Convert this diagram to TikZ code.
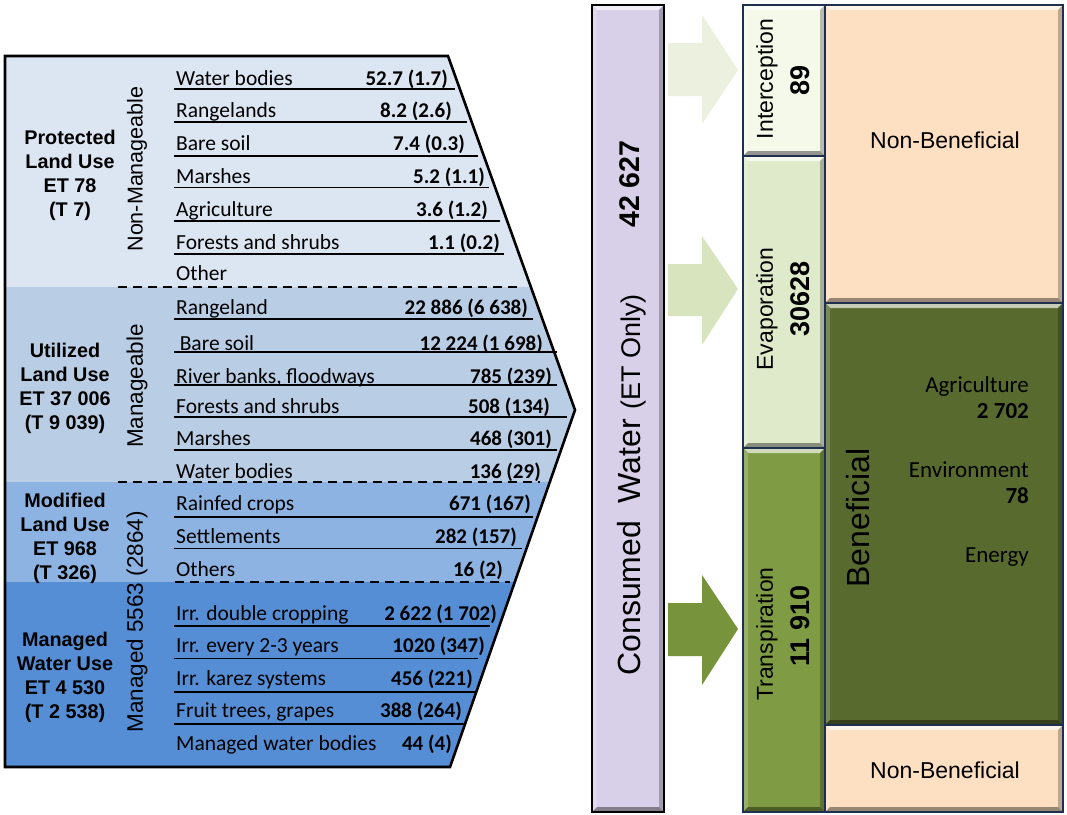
\documentclass[tikz,border=0pt]{standalone}
\usepackage{fontspec}
\setmainfont{Liberation Sans}
\newfontfamily\calib{Carlito}
\definecolor{bandA}{HTML}{DCE6F2}
\definecolor{bandB}{HTML}{B9CDE5}
\definecolor{bandC}{HTML}{8DB3E2}
\definecolor{bandD}{HTML}{558ED5}
\definecolor{lilac}{HTML}{D8CFE8}
\definecolor{interc}{HTML}{F5F9EA}
\definecolor{evapo}{HTML}{DFEACB}
\definecolor{transp}{HTML}{7F9B43}
\definecolor{peach}{HTML}{FDDFC1}
\definecolor{benef}{HTML}{586A2E}
\definecolor{arrA}{HTML}{EBF1DE}
\definecolor{arrB}{HTML}{D7E4BD}
\definecolor{arrC}{HTML}{77933C}
\definecolor{navy}{HTML}{1F2F50}
\newcommand\bevelbox[5]{%
  \fill[#5] (#1,#2) rectangle (#3,#4);
  \fill[#5!35!white] (#1,#2) -- (#3,#2) -- (#3-5,#2+5) -- (#1+5,#2+5) -- cycle;
  \fill[#5!80!white] (#1,#2) -- (#1+5,#2+5) -- (#1+5,#4-5) -- (#1,#4) -- cycle;
  \fill[#5!75!black] (#3,#2) -- (#3,#4) -- (#3-5,#4-5) -- (#3-5,#2+5) -- cycle;
  \fill[#5!60!black] (#1,#4) -- (#3,#4) -- (#3-5,#4-5) -- (#1+5,#4-5) -- cycle;
}
\newcommand\rowitem[5]{%
  \node[rowtxt] (#1l) at (176,#2) {#3};
  \node[rowval] (#1v) at (#4,#2) {#5};
}
\begin{document}
\begin{tikzpicture}[x=1pt,y=-1pt,
  rowtxt/.style={anchor=base west,inner sep=0pt,font=\calib\fontsize{21.5}{24}\selectfont},
  rowval/.style={anchor=base east,inner sep=0pt,font=\calib\bfseries\fontsize{21}{24}\selectfont},
  uline/.style={line width=1.6pt},
  dline/.style={line width=2.4pt,dash pattern=on 9pt off 6pt},
  grplabel/.style={align=center,inner sep=0pt,font=\bfseries\fontsize{19.8}{24}\selectfont},
  sidelabel/.style={rotate=90,inner sep=0pt,font=\fontsize{22.5}{26}\selectfont},
  vlabel/.style={rotate=90,inner sep=0pt,font=\fontsize{23}{26}\selectfont},
  vnum/.style={rotate=90,inner sep=0pt,font=\bfseries\fontsize{27}{30}\selectfont},
  rlabel/.style={anchor=base east,inner sep=0pt,font=\calib\fontsize{23}{26}\selectfont},
  rnum/.style={anchor=base east,inner sep=0pt,font=\calib\bfseries\fontsize{23}{26}\selectfont}]
\useasboundingbox (0,0) rectangle (1067,814);

% ---------- left pentagon ----------
\begin{scope}
  \clip (5,56) -- (448,56) -- (575,410) -- (450,767) -- (5,767) -- cycle;
  \fill[bandA] (0,50) rectangle (600,287);
  \fill[bandB] (0,287) rectangle (600,482);
  \fill[bandC] (0,482) rectangle (600,582);
  \fill[bandD] (0,582) rectangle (600,770);
\end{scope}
\draw[line width=2.6pt,line join=miter] (5,56) -- (448,56) -- (575,410) -- (450,767) -- (5,767) -- cycle;

% dashed separators
\draw[dline] (118,287) -- (522,287);
\draw[dline] (118,482) -- (540,482);
\draw[dline] (175,582) -- (510,582);

% underlines
\foreach \y/\xe in {89/455,121.7/467,156/478,187.3/489,221/500,254/504,
                    319/533,351.7/557,385/557,416.7/567,450/557,
                    516.7/533,548.3/522,
                    625.7/490,658.3/478,691.7/475,724/465}
  \draw[uline] (174,\y) -- (\xe,\y);

% rows: protected
\rowitem{pa}{85}{Water bodies}{448}{52.7 (1.7)}
\rowitem{pb}{117}{Rangelands}{452}{8.2 (2.6)}
\rowitem{pc}{150}{Bare soil}{465}{7.4 (0.3)}
\rowitem{pd}{183}{Marshes}{485}{5.2 (1.1)}
\rowitem{pe}{216}{Agriculture}{488}{3.6 (1.2)}
\rowitem{pf}{249}{Forests and shrubs}{500}{1.1 (0.2)}
\node[rowtxt] (pg) at (176,280) {Other};
% utilized
\rowitem{ua}{314}{Rangeland}{528}{22 886 (6 638)}
\rowitem{ub}{350}{\,Bare soil}{543}{12 224 (1 698)}
\rowitem{uc}{383}{River banks, floodways}{552}{785 (239)}
\rowitem{ud}{413}{Forests and shrubs}{550}{508 (134)}
\rowitem{ue}{445}{Marshes}{552}{468 (301)}
\rowitem{uf}{478}{Water bodies}{541}{136 (29)}
% modified
\rowitem{ma}{510}{Rainfed crops}{531}{671 (167)}
\rowitem{mb}{543}{Settlements}{517}{282 (157)}
\rowitem{mc}{576}{Others}{503}{16 (2)}
% managed
\rowitem{wa}{620}{Irr. double cropping}{497}{2 622 (1 702)}
\rowitem{wb}{652}{Irr. every 2-3 years}{485}{1020 (347)}
\rowitem{wc}{685}{Irr. karez systems}{473}{456 (221)}
\rowitem{wd}{717}{Fruit trees, grapes}{462}{388 (264)}
\rowitem{we}{750}{Managed water bodies}{452}{44 (4)}

% group labels
\node[grplabel] (gprot) at (70,175) {Protected\\Land Use\\ET 78\\(T 7)};
\node[grplabel] (gutil) at (65,388) {Utilized\\Land Use\\ET 37 006\\(T 9 039)};
\node[grplabel] (gmod) at (65,538) {Modified\\Land Use\\ET 968\\(T 326)};
\node[grplabel] (gman) at (65,677) {Managed\\Water Use\\ET 4 530\\(T 2 538)};

\node[sidelabel,font=\fontsize{21.5}{26}\selectfont] (snm) at (137,169) {Non-Manageable};
\node[sidelabel] (sm) at (137,386) {Manageable};
\node[sidelabel] (smd) at (137,622) {Managed 5563 (2864)};

% ---------- consumed water column ----------
\bevelbox{592}{5}{664}{812}{lilac}
\draw[line width=1.5pt] (592,5) rectangle (664,812);
\node[rotate=90,inner sep=0pt,anchor=base] (cw) at (640,485)
  {\fontsize{32}{36}\selectfont Consumed\ \ Water {\fontsize{27}{30}\selectfont(ET Only)}};
\node[vnum,font=\bfseries\fontsize{28.5}{32}\selectfont] (cwn) at (630,184) {42 627};

% ---------- block arrows ----------
\fill[arrA] (668,43) -- (702,43) -- (702,15) -- (738,70) -- (702,124) -- (702,96) -- (668,96) -- cycle;
\fill[arrB] (668,264) -- (702,264) -- (702,236) -- (738,289) -- (702,345) -- (702,316) -- (668,316) -- cycle;
\fill[arrC] (668,603) -- (702,603) -- (702,575) -- (738,629) -- (702,685) -- (702,656) -- (668,656) -- cycle;

% ---------- middle column ----------
\bevelbox{743}{5}{825}{156}{interc}
\bevelbox{743}{156}{825}{448}{evapo}
\bevelbox{743}{448}{825}{812}{transp}
\draw[navy,line width=1.2pt] (743,5) rectangle (825,156);
\draw[navy,line width=1.2pt] (743,156) rectangle (825,448);
\draw[navy,line width=1.2pt] (743,448) rectangle (825,812);
\node[vlabel] (ti) at (767,79) {Interception};
\node[vnum] (ni) at (800,80) {89};
\node[vlabel] (te) at (767,309) {Evaporation};
\node[vnum] (ne) at (800,299) {30628};
\node[vlabel] (tt) at (767,634) {Transpiration};
\node[vnum] (nt) at (800,626) {11 910};

% ---------- right column ----------
\bevelbox{825}{5}{1063}{303}{peach}
\bevelbox{825}{303}{1063}{725}{benef}
\bevelbox{825}{725}{1063}{812}{peach}
\draw[navy,line width=1.2pt] (825,5) rectangle (1063,303);
\draw[navy,line width=1.2pt] (825,303) rectangle (1063,725);
\draw[navy,line width=1.2pt] (825,725) rectangle (1063,812);
\node[inner sep=0pt,font=\fontsize{23}{26}\selectfont] (nb1) at (945,140) {Non-Beneficial};
\node[inner sep=0pt,font=\fontsize{23}{26}\selectfont] (nb2) at (945,770) {Non-Beneficial};
\node[rotate=90,inner sep=0pt,font=\fontsize{32}{36}\selectfont] (bf) at (858,518) {Beneficial};
\node[rlabel] (ag) at (1029,392) {Agriculture};
\node[rnum] (agn) at (1029,418) {2 702};
\node[rlabel] (en) at (1029,477) {Environment};
\node[rnum] (enn) at (1029,503) {78};
\node[rlabel] (eg) at (1029,562) {Energy};
\end{tikzpicture}
\end{document}
